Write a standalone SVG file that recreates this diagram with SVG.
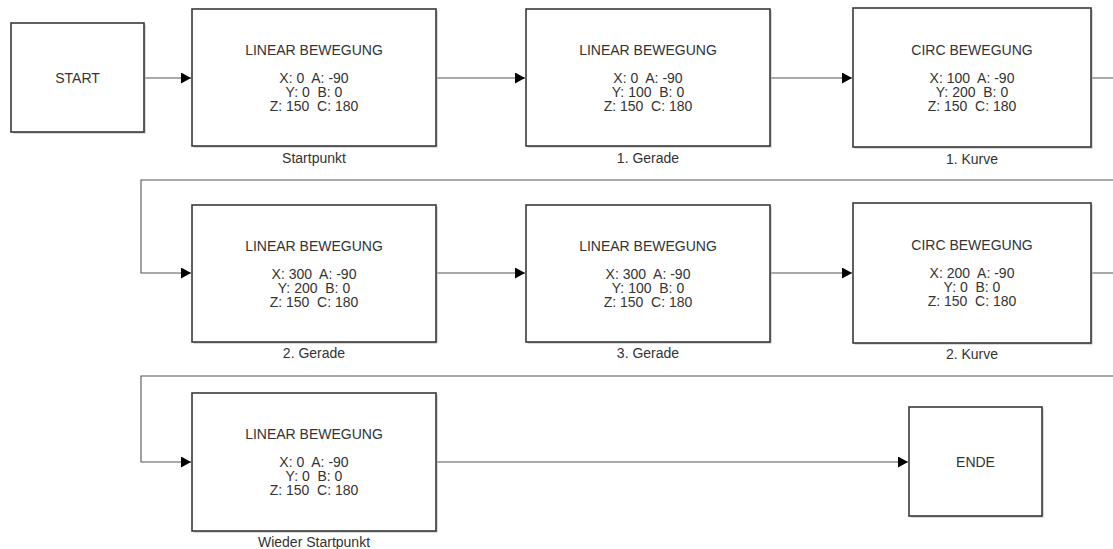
<svg xmlns="http://www.w3.org/2000/svg" width="1113" height="549" viewBox="0 0 1113 549">
<defs>
<marker id="arr" markerWidth="11" markerHeight="11" refX="10" refY="5.5" orient="auto" markerUnits="userSpaceOnUse">
<path d="M0,0 L10,5.5 L0,11 Z" fill="#000"/>
</marker>
</defs>
<style>
.bx{fill:#fff;stroke:#3a3a3a;stroke-width:1.6}
.sh{fill:#b8b8b8}
.t{font-family:"Liberation Sans",Arial,sans-serif;font-size:14px;fill:#333;text-anchor:middle;white-space:pre}
.c{fill:none;stroke:#555;stroke-width:1.1}
</style>
<rect width="1113" height="549" fill="#fff"/>
<g id="connectors">
<path class="c" d="M144,78 H191" marker-end="url(#arr)"/>
<path class="c" d="M436,78 H525" marker-end="url(#arr)"/>
<path class="c" d="M770,78 H852" marker-end="url(#arr)"/>
<path class="c" d="M1091,78 H1125 V180 H141 V273 H191" marker-end="url(#arr)"/>
<path class="c" d="M436,273 H525" marker-end="url(#arr)"/>
<path class="c" d="M770,273 H852" marker-end="url(#arr)"/>
<path class="c" d="M1091,273 H1125 V376 H141 V462 H191" marker-end="url(#arr)"/>
<path class="c" d="M436,462 H908" marker-end="url(#arr)"/>
</g>
<g id="start">
<rect class="sh" x="12.5" y="24.5" width="133" height="109"/>
<rect class="bx" x="11" y="23" width="133" height="109"/>
<text class="t" x="77.5" y="83">START</text>
</g>
<g id="startpunkt">
<rect class="sh" x="193.5" y="10.5" width="244" height="137"/>
<rect class="bx" x="192" y="9" width="244" height="137"/>
<text class="t" x="314" y="55">LINEAR BEWEGUNG</text>
<text class="t" x="314" y="83">X: 0  A: -90</text>
<text class="t" x="314" y="97">Y: 0  B: 0</text>
<text class="t" x="314" y="111">Z: 150  C: 180</text>
<text class="t" x="314" y="163">Startpunkt</text>
</g>
<g id="gerade1">
<rect class="sh" x="527.5" y="10.5" width="244" height="137"/>
<rect class="bx" x="526" y="9" width="244" height="137"/>
<text class="t" x="648" y="55">LINEAR BEWEGUNG</text>
<text class="t" x="648" y="83">X: 0  A: -90</text>
<text class="t" x="648" y="97">Y: 100  B: 0</text>
<text class="t" x="648" y="111">Z: 150  C: 180</text>
<text class="t" x="648" y="163">1. Gerade</text>
</g>
<g id="kurve1">
<rect class="sh" x="854.5" y="9.5" width="238" height="139"/>
<rect class="bx" x="853" y="8" width="238" height="139"/>
<text class="t" x="972" y="55">CIRC BEWEGUNG</text>
<text class="t" x="972" y="83">X: 100  A: -90</text>
<text class="t" x="972" y="97">Y: 200  B: 0</text>
<text class="t" x="972" y="111">Z: 150  C: 180</text>
<text class="t" x="972" y="164">1. Kurve</text>
</g>
<g id="gerade2">
<rect class="sh" x="193.5" y="206.5" width="244" height="137"/>
<rect class="bx" x="192" y="205" width="244" height="137"/>
<text class="t" x="314" y="251">LINEAR BEWEGUNG</text>
<text class="t" x="314" y="279">X: 300  A: -90</text>
<text class="t" x="314" y="293">Y: 200  B: 0</text>
<text class="t" x="314" y="307">Z: 150  C: 180</text>
<text class="t" x="314" y="358">2. Gerade</text>
</g>
<g id="gerade3">
<rect class="sh" x="527.5" y="206.5" width="244" height="137"/>
<rect class="bx" x="526" y="205" width="244" height="137"/>
<text class="t" x="648" y="251">LINEAR BEWEGUNG</text>
<text class="t" x="648" y="279">X: 300  A: -90</text>
<text class="t" x="648" y="293">Y: 100  B: 0</text>
<text class="t" x="648" y="307">Z: 150  C: 180</text>
<text class="t" x="648" y="358">3. Gerade</text>
</g>
<g id="kurve2">
<rect class="sh" x="854.5" y="204.5" width="238" height="140"/>
<rect class="bx" x="853" y="203" width="238" height="140"/>
<text class="t" x="972" y="250">CIRC BEWEGUNG</text>
<text class="t" x="972" y="278">X: 200  A: -90</text>
<text class="t" x="972" y="292">Y: 0  B: 0</text>
<text class="t" x="972" y="306">Z: 150  C: 180</text>
<text class="t" x="972" y="359">2. Kurve</text>
</g>
<g id="wieder">
<rect class="sh" x="193.5" y="394.5" width="244" height="138"/>
<rect class="bx" x="192" y="393" width="244" height="138"/>
<text class="t" x="314" y="439">LINEAR BEWEGUNG</text>
<text class="t" x="314" y="467">X: 0  A: -90</text>
<text class="t" x="314" y="481">Y: 0  B: 0</text>
<text class="t" x="314" y="495">Z: 150  C: 180</text>
<text class="t" x="314" y="547">Wieder Startpunkt</text>
</g>
<g id="ende">
<rect class="sh" x="910.5" y="408.5" width="133" height="109"/>
<rect class="bx" x="909" y="407" width="133" height="109"/>
<text class="t" x="975.5" y="467">ENDE</text>
</g>
</svg>
